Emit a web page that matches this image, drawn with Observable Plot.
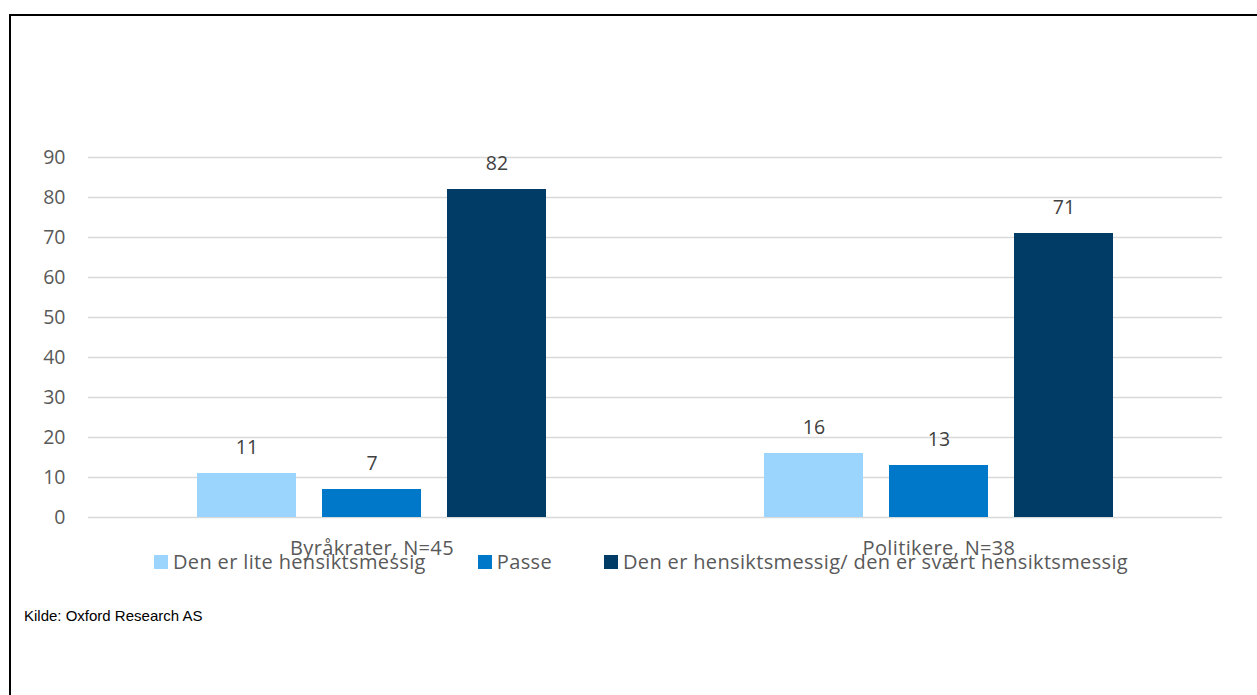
<!DOCTYPE html>
<html>
<head>
<meta charset="utf-8">
<script src="https://cdn.jsdelivr.net/npm/d3@7"></script>
<script src="https://cdn.jsdelivr.net/npm/@observablehq/plot@0.6"></script>
<style>
  html, body { margin: 0; padding: 0; background: #fff; }
  #wrap { position: relative; width: 1257px; height: 695px; overflow: hidden; background: #fff; }
  #frame { position: absolute; left: 9px; top: 14px; width: 1400px; height: 900px; border-top: 2.5px solid #000; border-left: 2.5px solid #000; }
  #chart { position: absolute; left: 0; top: 0; }
  #chart g[aria-label="fx-axis tick label"] { letter-spacing: 0.35px; }
  #legend { position: absolute; left: 154px; top: 548px; }
  .lg-swatches { font-family: "Open Sans", sans-serif !important; font-size: 20px !important; letter-spacing: 0.35px; color: #595959 !important; min-height: 0 !important; margin: 0 !important; }
  .lg-swatch { margin-right: 52px !important; }
  .lg-swatch > svg { margin-right: 5px !important; }
  #caption { position: absolute; left: 24px; top: 607px; font-family: "Liberation Sans", Arial, sans-serif; font-size: 15px; color: #000; }
</style>
</head>
<body>
<div id="wrap">
  <div id="frame"></div>
  <div id="chart"></div>
  <div id="legend"></div>
  <div id="caption">Kilde: Oxford Research AS</div>
</div>
<script>
const groups = ["Byråkrater, N=45", "Politikere, N=38"];
const series = ["Den er lite hensiktsmessig", "Passe", "Den er hensiktsmessig/ den er svært hensiktsmessig"];
const colors = ["#9BD5FD", "#0078C9", "#003C65"];
const byraakrater = [11, 7, 82];
const politikere = [16, 13, 71];
const yTicks = [0, 10, 20, 30, 40, 50, 60, 70, 80, 90];

const data = [];
[byraakrater, politikere].forEach((vals, gi) => {
  vals.forEach((v, si) => data.push({group: groups[gi], series: series[si], value: v}));
});

const chart = Plot.plot({
  width: 1257,
  height: 695,
  marginLeft: 88,
  marginRight: 35,
  marginTop: 157,
  marginBottom: 178,
  style: {fontFamily: "'Open Sans', sans-serif", background: "transparent", overflow: "visible"},
  fx: {domain: groups, padding: 0, label: null, axis: null},
  x: {domain: series, paddingInner: 0.208, paddingOuter: 0.872, axis: null},
  y: {domain: [0, 90], ticks: yTicks, label: null, axis: null},
  color: {domain: series, range: colors},
  marks: [
    Plot.ruleY(yTicks, {stroke: "#D9D9D9", strokeWidth: 1.5}),
    Plot.axisY(yTicks, {tickSize: 0, tickPadding: 23, fontSize: 19.5, fill: "#595959", label: null}),
    Plot.axisFx({anchor: "bottom", tickSize: 0, tickPadding: 23, fontSize: 20, fill: "#595959", label: null}),
    Plot.barY(data, {fx: "group", x: "series", y: "value", fill: "series"}),
    Plot.text(data, {fx: "group", x: "series", y: "value", text: d => String(d.value), dy: -26, fontSize: 19.5, fill: "#404040"})
  ]
});
document.getElementById("chart").appendChild(chart);

const legend = Plot.legend({
  color: {domain: series, range: colors},
  legend: "swatches",
  swatchSize: 14,
  className: "lg"
});
document.getElementById("legend").appendChild(legend);
</script>
</body>
</html>
